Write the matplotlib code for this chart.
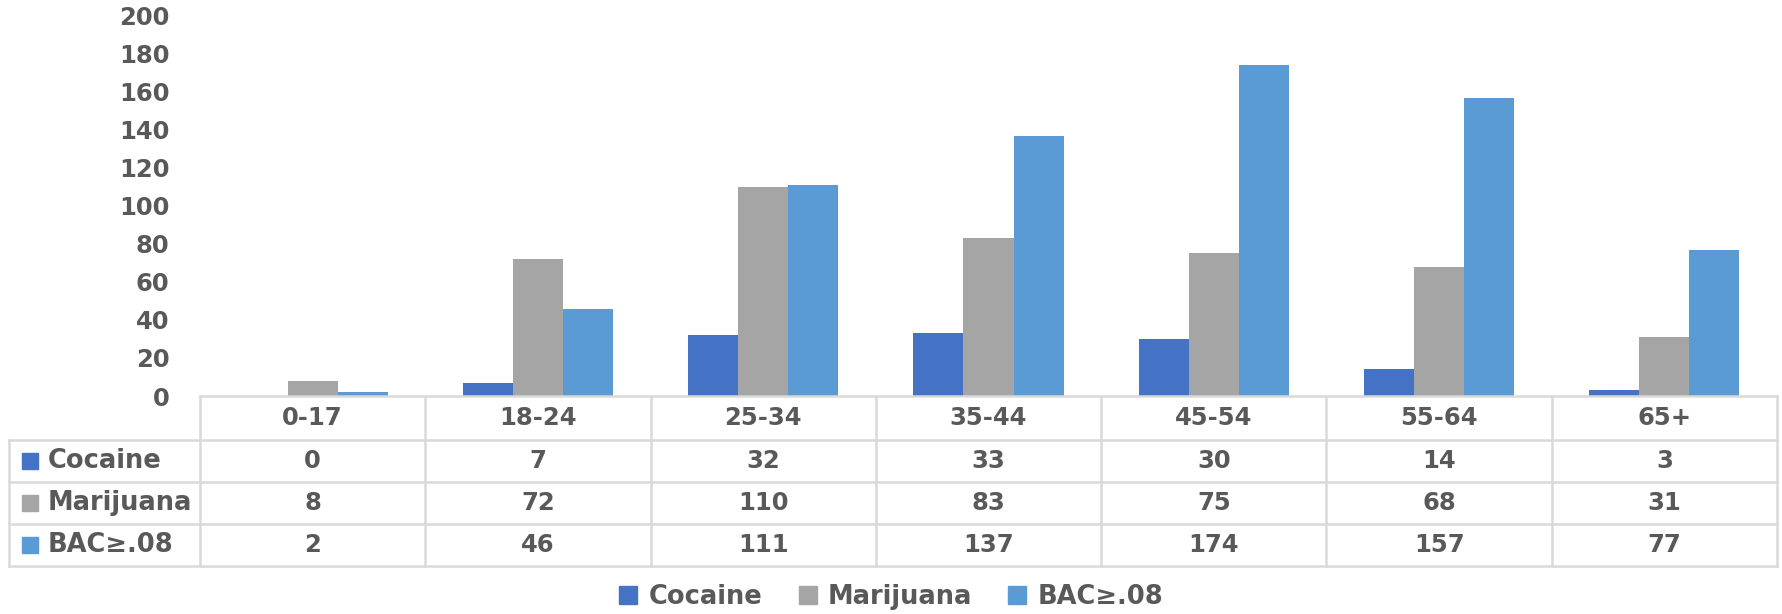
import matplotlib
matplotlib.use("Agg")
import matplotlib.pyplot as plt
import numpy as np
from matplotlib.transforms import blended_transform_factory
from matplotlib.patches import Rectangle, Patch
from matplotlib.lines import Line2D

categories = ["0-17", "18-24", "25-34", "35-44", "45-54", "55-64", "65+"]
series_names = ["Cocaine", "Marijuana", "BAC≥.08"]
cocaine = [0, 7, 32, 33, 30, 14, 3]
marijuana = [8, 72, 110, 83, 75, 68, 31]
bac = [2, 46, 111, 137, 174, 157, 77]
colors = ["#4472C4", "#A5A5A5", "#5B9BD5"]
yticks = list(range(0, 201, 20))

series = [cocaine, marijuana, bac]
TXT = "#595959"
GRID = "#D9D9D9"
FS = 17.5
FSL = 18.5
W, H = 1783, 614

plt.rcParams['font.family'] = ['DejaVu Sans']
fig = plt.figure(figsize=(W / 100, H / 100), dpi=100)
ax = fig.add_axes([200 / W, 1 - 396 / H, 1577 / W, 380 / H])

x = np.arange(len(categories))
bw = 1 / 4.5
for k, (vals, c, name) in enumerate(zip(series, colors, series_names)):
    ax.bar(x + (k - 1) * bw, vals, bw, color=c, label=name, zorder=2)

ax.set_xlim(-0.5, len(categories) - 0.5)
ax.set_ylim(0, 200)
for s in ax.spines.values():
    s.set_visible(False)
ax.set_xticks([])
ax.set_yticks(yticks)
ax.set_yticklabels([str(t) for t in yticks], fontsize=FS, fontweight='bold', color=TXT)
ax.tick_params(axis='y', length=0, pad=22)

# data table
def fy(py):
    return 1 - py / H

def fx(px):
    return px / W

bt = blended_transform_factory(ax.transData, fig.transFigure)
rows_y = [396, 440, 482, 524, 566]
lw = 1.8
fig.add_artist(Line2D([fx(200), fx(1777)], [fy(396), fy(396)], color=GRID, lw=lw))
for yy in rows_y[1:]:
    fig.add_artist(Line2D([fx(9), fx(1777)], [fy(yy), fy(yy)], color=GRID, lw=lw))
for i in range(len(categories) + 1):
    fig.add_artist(Line2D([i - 0.5, i - 0.5], [fy(396), fy(566)], color=GRID, lw=lw, transform=bt))
fig.add_artist(Line2D([fx(9), fx(9)], [fy(440), fy(566)], color=GRID, lw=lw))

hy = (396 + 440) / 2
for i, cat in enumerate(categories):
    fig.text(i, fy(hy), cat, transform=bt, ha='center', va='center',
             fontsize=FS, fontweight='bold', color=TXT)
for r, (vals, c, name) in enumerate(zip(series, colors, series_names)):
    cy = (rows_y[r + 1] + rows_y[r + 2]) / 2
    fig.add_artist(Rectangle((fx(22), fy(cy + 8)), 16 / W, 16 / H, color=c,
                             transform=fig.transFigure))
    fig.text(fx(48), fy(cy), name, ha='left', va='center',
             fontsize=FSL, fontweight='bold', color=TXT)
    for i, v in enumerate(vals):
        fig.text(i, fy(cy), str(v), transform=bt, ha='center', va='center',
                 fontsize=FS, fontweight='bold', color=TXT)

handles = [Patch(color=c, label=n) for c, n in zip(colors, series_names)]
fig.legend(handles=handles, loc='center', bbox_to_anchor=(0.5, fy(597)), ncol=3,
           frameon=False, prop={'size': FSL, 'weight': 'bold'}, labelcolor=TXT,
           handlelength=0.7, handleheight=0.7, handletextpad=0.45, columnspacing=1.4)

fig.savefig("out.png", dpi=100)
